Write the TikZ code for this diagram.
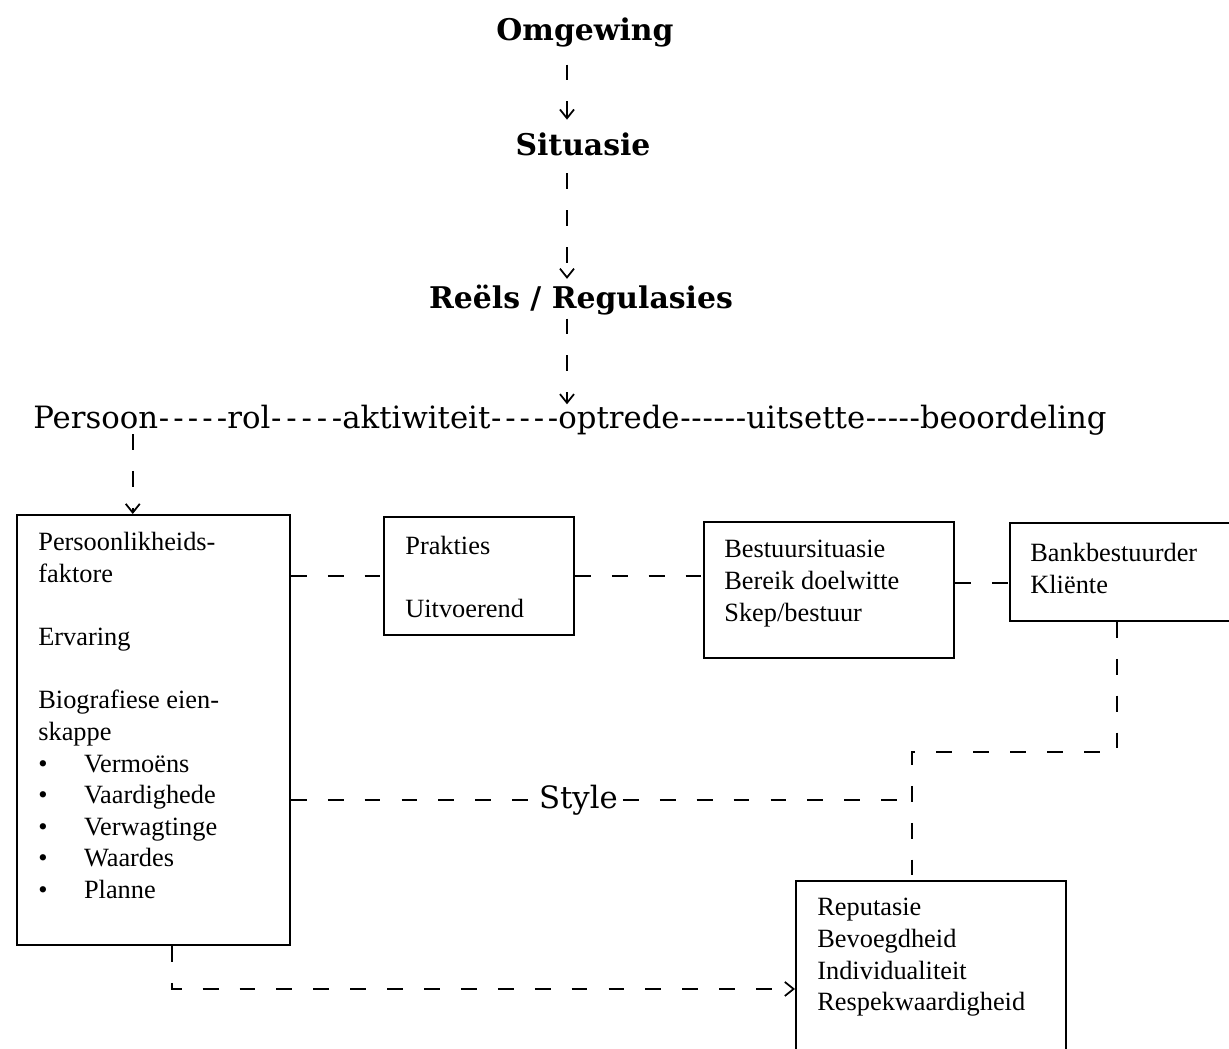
\documentclass[tikz,border=0pt]{standalone}
\usepackage{fontspec}
\setmainfont{Liberation Serif}
\newfontfamily\linefont[Ligatures=TeXOff]{DejaVu Serif}
\usetikzlibrary{positioning,calc,arrows.meta}

\newcommand{\itm}{\makebox[26pt][l]{\textbullet}}
\newcommand{\fivedash}{-\hfill-\hfill-\hfill-\hfill-}
\newcommand{\sixdash}{-\hfill-\hfill-\hfill-\hfill-\hfill-}

\tikzset{
  conn/.style={line width=1pt, dash pattern=on 9pt off 12pt},
  tip/.style={-{Straight Barb[length=5pt,width=8pt]}},
  box/.style={draw, line width=1.1pt, anchor=north west, inner sep=0pt},
  title/.style={font=\linefont\bfseries\fontsize{17}{20}\selectfont, inner sep=0pt},
  word/.style={font=\linefont\fontsize{17.5}{21}\selectfont, inner sep=0pt},
  boxtext/.style={anchor=north west, align=left, inner sep=0pt, font=\fontsize{15}{18}\selectfont},
}

\begin{document}
\begin{tikzpicture}[x=0.02cm,y=-0.02cm]
\useasboundingbox (0,0) rectangle (1229,1048);

% titles
\node[title, anchor=base] (omgewing) at (585,40) {Omgewing};
\node[title, anchor=base] (situasie) at (583,155) {Situasie};
\node[title, anchor=base] (reels) at (581,308) {Reëls / Regulasies};

% the chain line
\node[word, anchor=base west] (persoon) at (33,428) {Persoon};
\node[word, anchor=base west] (rol) at (227,428) {rol};
\node[word, anchor=base west] (aktiwiteit) at (342,428) {aktiwiteit};
\node[word, anchor=base west] (optrede) at (558,428) {optrede};
\node[word, anchor=base west] (uitsette) at (746,428) {uitsette};
\node[word, anchor=base east] (beoordeling) at (1107,428) {beoordeling};

\path let \p1=(persoon.base east), \p2=(rol.base west) in
  node[word, anchor=base west] (d1) at (\p1) {\makebox[\dimexpr\x2-\x1\relax][s]{\fivedash}};
\path let \p1=(rol.base east), \p2=(aktiwiteit.base west) in
  node[word, anchor=base west] (d2) at (\p1) {\makebox[\dimexpr\x2-\x1\relax][s]{\fivedash}};
\path let \p1=(aktiwiteit.base east), \p2=(optrede.base west) in
  node[word, anchor=base west] (d3) at (\p1) {\makebox[\dimexpr\x2-\x1\relax][s]{\fivedash}};
\path let \p1=(optrede.base east), \p2=(uitsette.base west) in
  node[word, anchor=base west] (d4) at (\p1) {\makebox[\dimexpr\x2-\x1\relax][s]{\sixdash}};
\path let \p1=(uitsette.base east), \p2=(beoordeling.base west) in
  node[word, anchor=base west] (d5) at (\p1) {\makebox[\dimexpr\x2-\x1\relax][s]{\fivedash}};

% boxes
\node[box, minimum width=5.46cm, minimum height=8.6cm] (box1) at (16,514) {};
\node[box, minimum width=3.8cm, minimum height=2.36cm] (box2) at (383,516) {};
\node[box, minimum width=5.0cm, minimum height=2.72cm] (box3) at (703,521) {};
\node[box, minimum width=4.8cm, minimum height=1.96cm] (box4) at (1009,522) {};
\node[box, minimum width=5.4cm, minimum height=4.32cm] (box5) at (795,880) {};

\node[boxtext] (t1) at ($(box1.north west)+(22,18)$) {Persoonlikheids-\\ faktore\\[18pt]
  Ervaring\\[18pt] Biografiese eien-\\ skappe\\ \itm Vermoëns\\ \itm Vaardighede\\
  \itm Verwagtinge\\ \itm Waardes\\ \itm Planne};
\node[boxtext] (t2) at ($(box2.north west)+(22,20)$) {Prakties\\[18pt] Uitvoerend};
\node[boxtext] (t3) at ($(box3.north west)+(21,19)$) {Bestuursituasie\\ Bereik doelwitte\\ Skep/bestuur};
\node[boxtext] (t4) at ($(box4.north west)+(21,21)$) {Bankbestuurder\\ Kliënte};
\node[boxtext] (t5) at ($(box5.north west)+(22,18)$) {Reputasie\\ Bevoegdheid\\ Individualiteit\\ Respekwaardigheid};

% arrows down the middle
\draw[conn,tip,shorten <=10pt,shorten >=7pt] ($(omgewing.south)+(-18,0)$) coordinate (a1) -- (a1 |- situasie.north);
\draw[conn,tip,shorten <=10pt,shorten >=3pt] (a1 |- situasie.south) -- (a1 |- reels.north);
\draw[conn,tip,shorten <=2pt] (a1 |- reels.south) -- (a1 |- optrede.north);
\draw[conn,tip,shorten <=3pt] ($(persoon.south)+(37,0)$) coordinate (p1) -- (p1 |- box1.north);

% links between boxes
\draw[conn] (box2.west -| box1.east) -- (box2.west);
\draw[conn] (box2.east) -- (box2.east -| box3.west);
\draw[conn] ($(box3.east)+(0,-7)$) coordinate (c34) -- (c34 -| box4.west);

\coordinate (join) at (912,752);
\coordinate (st) at (912,800);
\draw[conn] ($(box4.south west)+(108,0)$) coordinate (k4) -- (k4 |- join) -- (join) -- (join |- box5.north);
\draw[conn] (st -| box1.east) -- node[word, pos=0.463, fill=white, inner xsep=1pt] (style) {Style} (st);
\draw[conn,tip] ($(box1.south west)+(156,0)$) coordinate (b1) |- (box5.west);
\end{tikzpicture}
\end{document}
